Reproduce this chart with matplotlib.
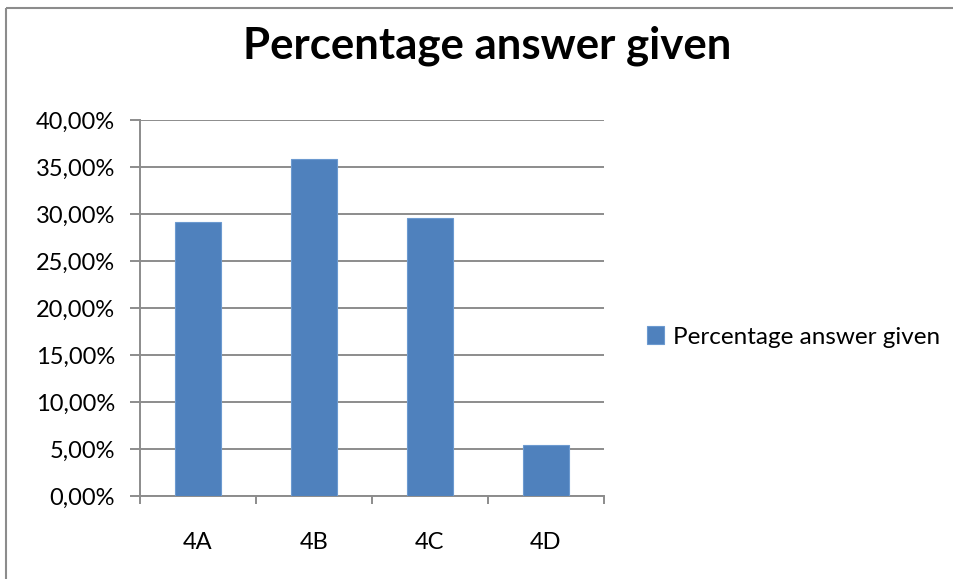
import matplotlib
matplotlib.use("Agg")
import matplotlib.pyplot as plt
from matplotlib.lines import Line2D
from matplotlib.ticker import FuncFormatter, FixedLocator

categories = ["4A", "4B", "4C", "4D"]
values = [29.12, 35.82, 29.57, 5.39]
series_name = "Percentage answer given"
title = "Percentage answer given"
yticks = [0, 5, 10, 15, 20, 25, 30, 35, 40]

FONT = "Lato"
W, H = 954, 579
fig = plt.figure(figsize=(W / 100, H / 100), dpi=100)
fig.patch.set_facecolor("white")

ax = fig.add_axes([140 / W, 1 - 496 / H, (604 - 140) / W, (496 - 120) / H])
bar_color = "#4F81BD"
x = list(range(len(categories)))
ax.bar(x, values, width=0.4, color=bar_color, edgecolor="#6C9AD0", linewidth=0.8,
       label=series_name, zorder=3)

ax.set_xlim(-0.5, len(categories) - 0.5)
ax.set_ylim(0, 40)
grid_c = "#8C8C8C"
ax.yaxis.set_major_locator(FixedLocator(yticks))
ax.yaxis.set_major_formatter(FuncFormatter(lambda v, p: f"{v:.2f}%".replace(".", ",")))
ax.grid(axis="y", color=grid_c, linewidth=1.4, zorder=0)
ax.set_axisbelow(True)
for s in ["top", "right"]:
    ax.spines[s].set_visible(False)
for s in ["left", "bottom"]:
    ax.spines[s].set_color(grid_c)
    ax.spines[s].set_linewidth(1.4)

ax.set_xticks(x)
ax.set_xticklabels(categories)
ax.set_xticks([i - 0.5 for i in range(len(categories) + 1)], minor=True)
ax.tick_params(axis="x", which="major", length=0, pad=26)
ax.tick_params(axis="x", which="minor", length=6, color=grid_c, width=1.4, direction="out")
ax.tick_params(axis="y", which="major", length=7, color=grid_c, width=1.4, pad=11)
for lab in ax.get_xticklabels() + ax.get_yticklabels():
    lab.set_fontfamily(FONT)
    lab.set_fontsize(17)
    lab.set_color("#000000")

fig.text(487 / W, 1 - 59 / H, title, ha="center", va="baseline",
         fontfamily=FONT, fontweight="bold", fontsize=31.5, color="black")

leg = ax.legend(loc="center left", bbox_to_anchor=(647 / W, 1 - 337 / H),
                bbox_transform=fig.transFigure, frameon=False,
                prop={"family": FONT, "size": 17.5}, handlelength=0.72,
                handleheight=0.72, handletextpad=0.35, borderpad=0, borderaxespad=0)

fig.add_artist(Line2D([6.5 / W, 6.5 / W], [0, 1 - 8 / H], transform=fig.transFigure,
                      color="#8C8C8C", linewidth=1.5, solid_capstyle="butt"))
fig.add_artist(Line2D([6.5 / W, 1], [1 - 8 / H, 1 - 8 / H], transform=fig.transFigure,
                      color="#8C8C8C", linewidth=1.5, solid_capstyle="butt"))

fig.savefig("out.png", dpi=100)
